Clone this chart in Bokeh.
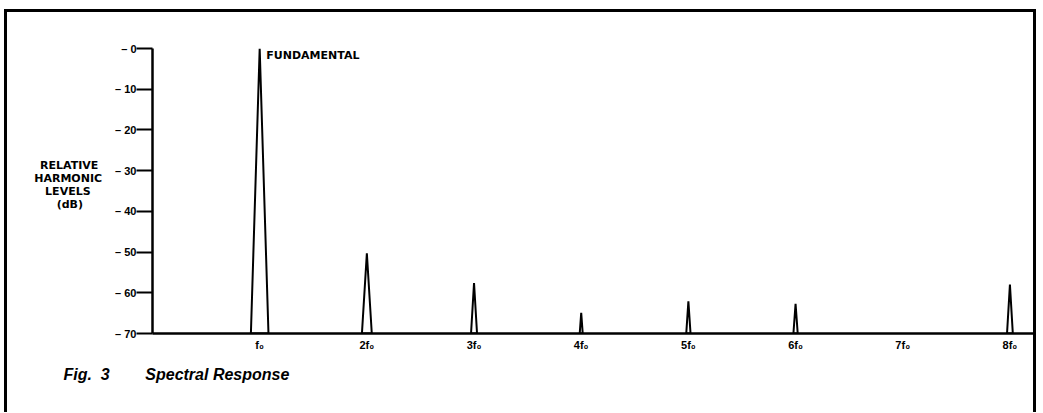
from bokeh.plotting import figure
from bokeh.models import Range1d, FixedTicker, Label, Title
from bokeh.embed import file_html
from bokeh.resources import INLINE

# ---- data ----
harmonics = [1, 2, 3, 4, 5, 6, 7, 8]
harmonic_labels = ["f\u2080", "2f\u2080", "3f\u2080", "4f\u2080", "5f\u2080", "6f\u2080", "7f\u2080", "8f\u2080"]
levels_db = [0, -50.3, -57.6, -64.9, -62.1, -62.7, -70, -58.0]
y_ticks = [0, -10, -20, -30, -40, -50, -60, -70]
y_tick_labels = ["\u2013 0", "\u2013 10", "\u2013 20", "\u2013 30", "\u2013 40", "\u2013 50", "\u2013 60", "\u2013 70"]
y_title_lines = ["RELATIVE", "HARMONIC", "LEVELS", "(dB)"]

# ---- style: half base width of each drawn peak (x units) ----
peak_halfwidths = [0.082, 0.046, 0.028, 0.014, 0.02, 0.02, 0.02, 0.027]

TICK_FONT = "Liberation Sans"
TEXT_FONT = "DejaVu Sans"
FLOOR = -70
NB = "\u00a0"

p = figure(width=1026, height=400, output_backend="svg", toolbar_location=None,
           x_range=Range1d(0, 8.22), y_range=Range1d(FLOOR, 0),
           min_border_left=145, min_border_right=6, min_border_top=36, min_border_bottom=82)
p.styles = {"box-sizing": "content-box",
            "border-left": "3px solid black", "border-top": "3px solid black",
            "border-right": "3px solid black", "margin-left": "4px", "margin-top": "9px"}
p.outline_line_color = None
p.grid.visible = False
p.background_fill_color = "white"
p.border_fill_color = "white"

xs, ys = [], []
for h, lv, hw in zip(harmonics, levels_db, peak_halfwidths):
    if lv <= FLOOR:
        continue
    xs.append([h - hw, h, h + hw])
    ys.append([FLOOR, lv, FLOOR])
p.patches(xs, ys, fill_color="white", line_color="black", line_width=2, line_join="bevel")

# y axis
ya = p.yaxis[0]
ya.ticker = FixedTicker(ticks=y_ticks)
ya.major_label_overrides = {t: l for t, l in zip(y_ticks, y_tick_labels)}
ya.axis_line_width = 2.5
ya.axis_line_color = "black"
ya.major_tick_out = 16
ya.major_tick_in = 0
ya.major_tick_line_width = 2
ya.minor_tick_line_color = None
ya.major_label_standoff = 0
ya.major_label_text_font = TICK_FONT
ya.major_label_text_font_style = "bold"
ya.major_label_text_font_size = "11px"
ya.major_label_text_color = "black"
# right-aligned lines padded with no-break spaces so they look centred
pads = [1, 0, 3, 5]
ya.axis_label = "\n".join(t + NB * n for t, n in zip(y_title_lines, pads)) + "\n" + NB
ya.axis_label_orientation = "horizontal"
ya.axis_label_standoff = 10
ya.axis_label_text_font = TEXT_FONT
ya.axis_label_text_font_style = "bold"
ya.axis_label_text_font_size = "11px"
ya.axis_label_text_color = "black"
ya.axis_label_text_line_height = 1.0

# x axis
xa = p.xaxis[0]
xa.ticker = FixedTicker(ticks=harmonics)
xa.major_label_overrides = {h: l for h, l in zip(harmonics, harmonic_labels)}
xa.axis_line_width = 2.5
xa.axis_line_color = "black"
xa.major_tick_out = 0
xa.major_tick_in = 0
xa.minor_tick_line_color = None
xa.major_label_standoff = 5
xa.major_label_text_font = TICK_FONT
xa.major_label_text_font_style = "bold"
xa.major_label_text_font_size = "11px"
xa.major_label_text_color = "black"

p.add_layout(Label(x=1.062, y=0, text="FUNDAMENTAL", text_font=TEXT_FONT, text_font_style="bold",
                   text_font_size="11px", text_baseline="top", text_color="black"))

caption = Title(text="Fig." + NB * 2 + "3" + NB * 8 + "Spectral Response",
                align="left", offset=-89, standoff=21,
                text_font="Liberation Sans", text_font_style="bold italic",
                text_font_size="16px", text_color="black")
p.add_layout(caption, "below")

open("out.html", "w").write(file_html(p, INLINE))
